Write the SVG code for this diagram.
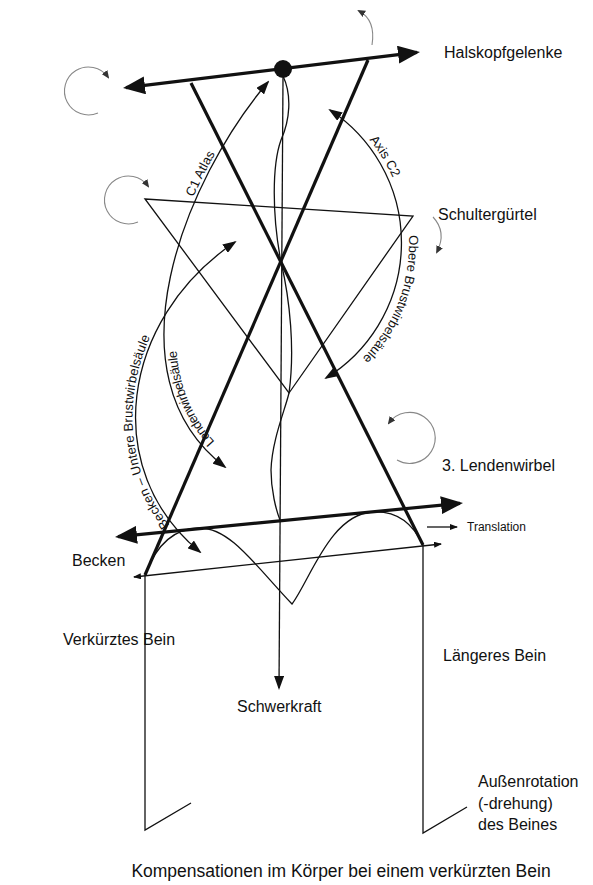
<svg xmlns="http://www.w3.org/2000/svg" width="593" height="885" viewBox="0 0 593 885">
<style>
text{font-family:"Liberation Sans",Arial,sans-serif;fill:#111}
.lbl{font-size:16px}
.arc{font-size:13px}
.thick{stroke:#111;stroke-width:3.2;fill:none}
.thin{stroke:#111;stroke-width:1.3;fill:none}
.rot{stroke:#888;stroke-width:1.1;fill:none}
</style>
<defs>
<marker id="big" viewBox="0 0 22 18" refX="19" refY="9" markerWidth="22" markerHeight="18" markerUnits="userSpaceOnUse" orient="auto-start-reverse"><path d="M0,0L22,9L0,18z" fill="#111"/></marker>
<marker id="med" viewBox="0 0 14 10" refX="12" refY="5" markerWidth="14" markerHeight="10" markerUnits="userSpaceOnUse" orient="auto-start-reverse"><path d="M0,0L14,5L0,10z" fill="#111"/></marker>
<marker id="sm" viewBox="0 0 8 6" refX="7" refY="3" markerWidth="8" markerHeight="6" markerUnits="userSpaceOnUse" orient="auto-start-reverse"><path d="M0,0L8,3L0,6z" fill="#111"/></marker>
<marker id="rot" viewBox="0 0 8 7" refX="6" refY="3.5" markerWidth="8" markerHeight="7" markerUnits="userSpaceOnUse" orient="auto"><path d="M0,0L8,3.5L0,7z" fill="#333"/></marker>
<path id="arc-c1" d="M225,467 C105,375 185,180 268,82"/>
<path id="tp-bk" d="M200,552 C100,470 120,320 235,242"/>
<path id="tp-ax" d="M369.1,139.9 A162,162 0 0,1 406.9,238.3"/>
<path id="tp-ob" d="M408.8,235.4 A164,164 0 0,1 322,388.8"/>
</defs>
<rect width="593" height="885" fill="#fff"/>

<g id="connectors">
  <line class="thick" x1="191" y1="83" x2="423" y2="545"/>
  <line class="thick" x1="368" y1="60" x2="145" y2="575"/>
  <line class="thin" x1="283" y1="78" x2="279" y2="688" marker-end="url(#med)"/>
  <path class="thin" d="M283,76 C292,95 290,120 281,140 C272,165 272,215 281,262 C290,300 295,350 289,393 C285,410 272,440 271,470 C271,490 276,510 280,520"/>
  <path class="thin" d="M225,467 C105,375 185,180 268,82" marker-start="url(#med)" marker-end="url(#med)"/>
  <path class="thin" d="M235,242 C120,320 100,470 200,552" marker-start="url(#med)" marker-end="url(#med)"/>
  <path class="thin" d="M330,110 A159,159 0 0,1 326,378" marker-start="url(#med)" marker-end="url(#med)"/>
  <text class="arc" dy="-3"><textPath href="#arc-c1" startOffset="68%">C1 Atlas</textPath></text>
  <text class="arc" font-size="13.5" dy="12"><textPath href="#arc-c1" startOffset="6%">Lendenwirbelsäule</textPath></text>
  <text class="arc" font-size="14.5" dy="-3"><textPath href="#tp-bk" startOffset="11%">Becken – Untere Brustwirbelsäule</textPath></text>
  <text class="arc"><textPath href="#tp-ax" startOffset="0">Axis C2</textPath></text>
  <text class="arc"><textPath href="#tp-ob" startOffset="0">Obere Brustwirbelsäule</textPath></text>
  <path class="rot" d="M98,113 A24,24 0 1,1 108,77" marker-end="url(#rot)"/>
  <path class="rot" d="M138,222 A24,24 0 1,1 148,186" marker-end="url(#rot)"/>
  <path class="rot" d="M397,460 A25.5,25.5 0 1,0 389,423" marker-end="url(#rot)"/>
  <path class="rot" d="M372,45 Q376,20 359,11" marker-end="url(#rot)"/>
  <path class="rot" d="M433,217 Q447,232 437,252" marker-end="url(#rot)"/>
  <line class="thin" x1="427" y1="527" x2="457" y2="527" stroke-width="1" marker-end="url(#sm)"/>
  <line class="thin" x1="134" y1="577" x2="441" y2="544" stroke-width="1" marker-start="url(#sm)" marker-end="url(#sm)"/>
</g>

<g id="halskopfgelenke">
  <line class="thick" x1="126" y1="87.6" x2="417" y2="52.4" marker-start="url(#big)" marker-end="url(#big)"/>
  <circle cx="283" cy="69" r="9" fill="#111"/>
  <text class="lbl" x="444" y="58">Halskopfgelenke</text>
</g>

<g id="schultergurtel">
  <polygon class="thin" points="145,199 413,216 289,393"/>
  <text class="lbl" x="438" y="220">Schultergürtel</text>
</g>

<g id="lendenwirbel">
  <text class="lbl" x="442" y="471">3. Lendenwirbel</text>
  <text x="467" y="531" font-size="12">Translation</text>
</g>

<g id="becken">
  <line class="thick" x1="118" y1="536.7" x2="460" y2="503.3" marker-start="url(#big)" marker-end="url(#big)"/>
  <path class="thin" d="M145,575 C158,540 178,528 200,528 C230,528 255,565 292,604 C310,580 330,515 372,512 C400,510 415,528 423,545"/>
  <text class="lbl" x="72" y="566">Becken</text>
</g>

<g id="verkurztes-bein">
  <polyline class="thin" points="145,575 145,830 191,803"/>
  <text class="lbl" x="63" y="645">Verkürztes Bein</text>
</g>

<g id="langeres-bein">
  <polyline class="thin" points="423,545 423,833 467,807"/>
  <text class="lbl" x="443" y="661">Längeres Bein</text>
  <text class="lbl" x="478" y="787">Außenrotation</text>
  <text class="lbl" x="478" y="809">(-drehung)</text>
  <text class="lbl" x="478" y="830">des Beines</text>
</g>

<g id="schwerkraft">
  <text class="lbl" x="237" y="712">Schwerkraft</text>
</g>

<g id="caption">
  <text x="341" y="877" font-size="17.5" text-anchor="middle">Kompensationen im Körper bei einem verkürzten Bein</text>
</g>
</svg>
